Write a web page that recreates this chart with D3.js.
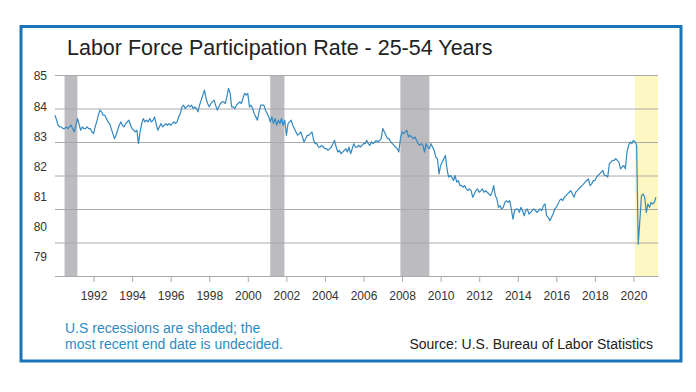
<!DOCTYPE html>
<html>
<head>
<meta charset="utf-8">
<script src="https://cdn.jsdelivr.net/npm/d3@7"></script>
<style>
  body { margin: 0; background: #fff; }
  svg { display: block; font-family: "Liberation Sans", Arial, Helvetica, sans-serif; }
</style>
</head>
<body>
<svg></svg>
<script>
// prime-age participation rate, monthly, Jan 1990 - Mar 2021
let startYear = 1990
let rates = [
  [83.8, 83.65, 83.5, 83.45, 83.45, 83.4, 83.4, 83.45, 83.4, 83.45, 83.5, 83.4],
  [83.3, 83.5, 83.7, 83.55, 83.35, 83.45, 83.4, 83.4, 83.45, 83.4, 83.4, 83.3],
  [83.25, 83.45, 83.6, 83.8, 83.95, 83.9, 83.8, 83.8, 83.7, 83.6, 83.55, 83.4],
  [83.25, 83.1, 83.2, 83.35, 83.5, 83.6, 83.5, 83.45, 83.55, 83.6, 83.65, 83.5],
  [83.4, 83.35, 83.3, 83.35, 82.95, 83.3, 83.55, 83.7, 83.6, 83.65, 83.6, 83.7],
  [83.6, 83.65, 83.75, 83.55, 83.35, 83.45, 83.55, 83.45, 83.5, 83.55, 83.5, 83.55],
  [83.5, 83.55, 83.6, 83.55, 83.6, 83.75, 83.85, 84.05, 84.1, 84.0, 84.05, 84.1],
  [84.05, 84.1, 84.0, 84.05, 84.0, 83.9, 84.1, 84.25, 84.4, 84.55, 84.3, 84.15],
  [84.05, 84.15, 84.2, 84.25, 84.1, 83.95, 84.05, 84.15, 84.2, 84.2, 84.15, 84.35],
  [84.6, 84.45, 84.05, 84.05, 84.0, 84.1, 84.15, 84.2, 84.15, 84.3, 84.45, 84.4],
  [84.45, 84.05, 84.1, 84.0, 83.85, 83.75, 83.65, 83.9, 84.1, 84.1, 84.1, 83.95],
  [83.85, 83.75, 83.6, 83.75, 83.55, 83.7, 83.5, 83.65, 83.55, 83.7, 83.5, 83.65],
  [83.2, 83.55, 83.6, 83.65, 83.5, 83.4, 83.3, 83.2, 83.25, 83.3, 83.15, 83.0],
  [83.1, 83.2, 83.2, 83.25, 83.3, 83.05, 82.95, 82.95, 82.85, 82.85, 82.9, 82.85],
  [82.8, 82.8, 82.75, 82.8, 82.85, 82.95, 83.05, 82.85, 82.7, 82.75, 82.65, 82.7],
  [82.75, 82.8, 82.7, 82.85, 82.65, 82.8, 82.95, 82.85, 82.85, 82.9, 82.85, 82.9],
  [82.95, 82.95, 83.05, 82.95, 82.9, 83.0, 82.95, 83.0, 83.05, 83.0, 83.05, 83.1],
  [83.4, 83.3, 83.2, 83.1, 83.1, 83.0, 82.95, 82.9, 82.85, 82.8, 82.7, 83.1],
  [83.3, 83.25, 83.3, 83.35, 83.15, 83.2, 83.15, 83.1, 83.15, 83.05, 82.95, 82.9],
  [82.95, 82.9, 82.7, 82.95, 82.85, 82.8, 82.95, 82.85, 82.75, 82.55, 82.5, 82.05],
  [82.3, 82.4, 82.5, 82.6, 82.2, 81.95, 82.0, 81.95, 81.85, 82.0, 81.8, 81.85],
  [81.7, 81.7, 81.65, 81.7, 81.6, 81.55, 81.6, 81.55, 81.35, 81.45, 81.55, 81.6],
  [81.5, 81.55, 81.6, 81.5, 81.55, 81.5, 81.45, 81.4, 81.5, 81.7, 81.4, 81.3],
  [81.05, 81.1, 81.0, 81.05, 81.2, 81.25, 81.2, 81.25, 81.0, 80.7, 80.95, 81.0],
  [81.0, 80.9, 81.05, 80.95, 80.8, 80.95, 81.0, 80.85, 80.9, 80.95, 81.0, 80.95],
  [80.9, 80.95, 81.0, 80.95, 81.1, 81.15, 80.8, 80.75, 80.65, 80.75, 80.85, 81.0],
  [81.05, 81.15, 81.25, 81.3, 81.25, 81.35, 81.4, 81.45, 81.5, 81.55, 81.45, 81.35],
  [81.5, 81.55, 81.6, 81.65, 81.7, 81.75, 81.8, 81.85, 81.9, 81.7, 81.75, 81.85],
  [81.85, 81.95, 82.0, 82.05, 82.1, 82.15, 82.0, 82.0, 81.95, 82.35, 82.4, 82.45],
  [82.45, 82.5, 82.45, 82.4, 82.2, 82.25, 82.3, 82.2, 82.7, 82.9, 83.0, 82.95],
  [83.05, 83.0, 82.9, 79.95, 80.65, 81.4, 81.45, 81.35, 80.9, 81.15, 81.05, 81.2],
  [81.15, 81.2, 81.35]
]

// recessions: [start, end]; the last one has no end yet
let recessions = [
  ['1990-07-01', '1991-03-01'],
  ['2001-03-01', '2001-11-25'],
  ['2007-12-01', '2009-06-01'],
  ['2020-02-01', null]
]

let yTicks = [85, 84, 83, 82, 81, 80, 79]
let xTickYears = [1992, 1994, 1996, 1998, 2000, 2002, 2004, 2006, 2008, 2010, 2012, 2014, 2016, 2018, 2020]

let title = 'Labor Force Participation Rate - 25-54 Years'
let noteLines = ['U.S recessions are shaded; the', 'most recent end date is undecided.']
let source = 'Source: U.S. Bureau of Labor Statistics'

let width = 696
let height = 392
let plotLeft = 55
let plotRight = 658
let plotTop = 75
let plotBottom = 276

let svg = d3.select('svg').attr('width', width).attr('height', height)

let values = []
rates.forEach((row, i) => {
  row.forEach((v, m) => values.push({ date: new Date(startYear + i, m, 1), value: v }))
})

let xScale = d3.scaleTime()
  .domain([new Date(1990, 0, 1), new Date(2021, 3, 10)])
  .range([plotLeft, plotRight])

let yScale = d3.scaleLinear().domain([79, 85]).range([plotBottom, plotTop])
// the tick numbers sit on a slightly tighter spacing than the grid lines
let yLabelScale = d3.scaleLinear().domain([79, 85]).range([257, 76])

// frame
svg.append('rect')
  .attr('x', 21).attr('y', 26.5)
  .attr('width', 660).attr('height', 334.5)
  .attr('fill', '#fff')
  .attr('stroke', '#1c74b8')
  .attr('stroke-width', 3)

svg.append('text')
  .attr('x', 67).attr('y', 55)
  .attr('fill', '#222')
  .style('font-size', '21.5px')
  .text(title)

// shading
svg.append('g')
  .selectAll('rect')
  .data(recessions)
  .enter()
  .append('rect')
  .attr('x', (d) => xScale(new Date(d[0])))
  .attr('width', (d) => (d[1] ? xScale(new Date(d[1])) : plotRight) - xScale(new Date(d[0])))
  .attr('y', plotTop)
  .attr('height', plotBottom - plotTop)
  .attr('fill', (d) => d[1] ? '#bbbbc0' : '#fdf7c3')

// grid lines
let grid = svg.append('g')
  .attr('transform', 'translate(' + plotLeft + ',0)')
  .call(d3.axisLeft(yScale).tickValues(yTicks).tickSize(-(plotRight - plotLeft)).tickFormat(''))
grid.select('.domain').remove()
grid.selectAll('line').attr('stroke', '#aaaaaa').attr('stroke-width', 1)

// y labels
let yAxis = svg.append('g')
  .attr('transform', 'translate(47,0)')
  .call(d3.axisLeft(yLabelScale).tickValues(yTicks).tickSize(0).tickPadding(0).tickFormat(d3.format('d')))
yAxis.select('.domain').remove()
yAxis.selectAll('text')
  .attr('fill', '#333')
  .style('font-size', '12px')
  .style('font-family', '"Liberation Sans", Arial, sans-serif')

// x axis
let xAxis = svg.append('g')
  .attr('transform', 'translate(0,' + plotBottom + ')')
  .call(d3.axisBottom(xScale)
    .tickValues(xTickYears.map((y) => new Date(y, 0, 1)))
    .tickSize(6)
    .tickPadding(9)
    .tickSizeOuter(0)
    .tickFormat(d3.timeFormat('%Y')))
xAxis.select('.domain').attr('stroke', '#aaaaaa')
xAxis.selectAll('line').attr('stroke', '#aaaaaa')
xAxis.selectAll('text')
  .attr('fill', '#333')
  .style('font-size', '12px')
  .style('font-family', '"Liberation Sans", Arial, sans-serif')

// the line
let line = d3.line()
  .x((d) => xScale(d.date))
  .y((d) => yScale(d.value))

svg.append('path')
  .datum(values)
  .attr('d', line)
  .attr('fill', 'none')
  .attr('stroke', '#3389c0')
  .attr('stroke-width', 1.2)
  .attr('stroke-linejoin', 'round')

// footer
svg.append('g')
  .selectAll('text')
  .data(noteLines)
  .enter()
  .append('text')
  .attr('x', 65)
  .attr('y', (d, i) => 333 + i * 16)
  .attr('fill', '#2e8bc0')
  .style('font-size', '14px')
  .text((d) => d)

svg.append('text')
  .attr('x', 653).attr('y', 349)
  .attr('text-anchor', 'end')
  .attr('fill', '#222')
  .style('font-size', '14px')
  .text(source)
</script>
</body>
</html>
